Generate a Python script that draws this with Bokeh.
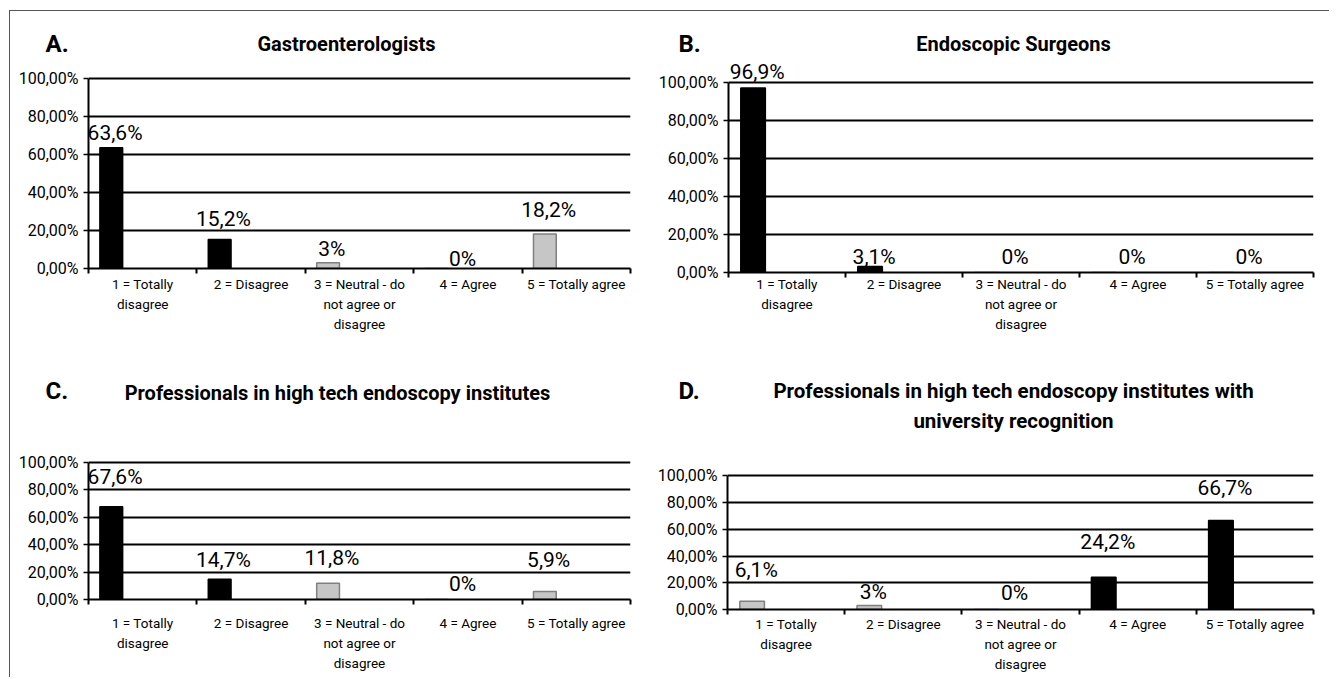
import numpy as np
from bokeh.plotting import figure
from bokeh.models import Range1d, FixedTicker, ColumnDataSource, LabelSet, Label
from bokeh.core.properties import value
from bokeh.layouts import row, column
from bokeh.embed import file_html
from bokeh.resources import INLINE

# ---------------- data ----------------
categories = ["1 = Totally\ndisagree", "2 = Disagree",
              "3 = Neutral - do\nnot agree or\ndisagree", "4 = Agree",
              "5 = Totally agree"]
y_ticks = [0, 20, 40, 60, 80, 100]
y_tick_labels = ["0,00%", "20,00%", "40,00%", "60,00%", "80,00%", "100,00%"]

values_A = [63.6, 15.2, 3.0, 0.0, 18.2]
values_B = [96.9, 3.1, 0.0, 0.0, 0.0]
values_C = [67.6, 14.7, 11.8, 0.0, 5.9]
values_D = [6.1, 3.0, 0.0, 24.2, 66.7]

letters = ["A.", "B.", "C.", "D."]
titles_A = ["Gastroenterologists"]
titles_B = ["Endoscopic Surgeons"]
titles_C = ["Professionals in high tech endoscopy institutes"]
titles_D = ["Professionals in high tech endoscopy institutes with",
            "university recognition"]

# categories drawn dark (the majority side) in each panel
dark_A = [0, 1]
dark_B = [0, 1]
dark_C = [0, 1]
dark_D = [3, 4]

# ---------------- layout / style (not data) ----------------
FONT = "Roboto"
TOTAL_W = 1319
# pixel gap between each bar top and its value label (as placed in the original)
gap_A = [8, 14, 7, 3, 17]
gap_B = [9, 3, 9, 9, 9]
gap_C = [23, 12, 18, 9, 24]
gap_D = [24, 6, 10, 28, 25]


def fmt(v):
    return ("%g" % v).replace(".", ",") + "%"


def panel(values, dark, gaps, w, h, borders, px_per_pct, cat_standoff):
    bl, br, bb = borders
    frame_h = h - bb
    y_end = frame_h / px_per_pct
    p = figure(width=w, height=h, x_range=Range1d(0, 5), y_range=Range1d(0, y_end),
               output_backend="svg", toolbar_location=None, tools="",
               min_border_left=bl, min_border_right=br,
               min_border_top=0, min_border_bottom=bb)
    p.outline_line_color = None
    p.background_fill_color = "white"
    p.border_fill_color = "white"

    n = len(values)
    idx = np.arange(n)
    fills = ["#000000" if i in dark else "#c6c6c6" for i in range(n)]
    lines = ["#000000" if i in dark else "#808080" for i in range(n)]
    xb = idx + 0.21
    xl = np.where(np.array(values) > 0, idx + 0.245, idx + 0.45)
    src = ColumnDataSource(dict(xb=xb, xl=xl, v=values, fill=fills, line=lines,
                                gap=gaps, lab=[fmt(v) for v in values]))
    p.vbar(x="xb", top="v", bottom=0, width=0.21, fill_color="fill",
           line_color="line", line_width=1.5, source=src)

    # grid
    p.xgrid.visible = False
    p.ygrid.ticker = FixedTicker(ticks=y_ticks)
    p.ygrid.grid_line_color = "black"
    p.ygrid.grid_line_width = 2

    # y axis
    ya = p.yaxis[0]
    ya.ticker = FixedTicker(ticks=y_ticks)
    ya.major_label_overrides = {t: l for t, l in zip(y_ticks, y_tick_labels)}
    ya.bounds = (0, 100)
    ya.axis_line_width = 2
    ya.axis_line_color = "black"
    ya.major_tick_line_color = "black"
    ya.major_tick_line_width = 1.5
    ya.major_tick_out = 5
    ya.major_tick_in = 0
    ya.minor_tick_line_color = None
    ya.major_label_standoff = 5
    ya.major_label_text_font = FONT
    ya.major_label_text_font_size = "16px"
    ya.major_label_text_color = "black"

    # x axis: labels at category centres, tick marks at boundaries
    xa = p.xaxis[0]
    centres = [i + 0.5 for i in range(n)]
    xa.ticker = FixedTicker(ticks=centres, minor_ticks=list(range(n + 1)))
    xa.major_label_overrides = {c: t for c, t in zip(centres, categories)}
    xa.axis_line_width = 2
    xa.axis_line_color = "black"
    xa.major_tick_line_color = None
    xa.major_tick_out = 0
    xa.major_tick_in = 0
    xa.minor_tick_line_color = "black"
    xa.minor_tick_line_width = 2
    xa.minor_tick_out = 5
    xa.minor_tick_in = 0
    xa.major_label_standoff = cat_standoff
    xa.major_label_text_font = FONT
    xa.major_label_text_font_size = "13.5px"
    xa.major_label_text_line_height = 1.25
    xa.major_label_text_color = "black"

    p.add_layout(LabelSet(x="xl", y="v", text="lab", source=src,
                          y_offset="gap", text_align="center",
                          text_baseline="alphabetic", text_font=value(FONT),
                          text_font_size=value("21px"), text_color="black"))
    return p


def strip(h, items):
    s = figure(width=TOTAL_W, height=h, x_range=Range1d(0, TOTAL_W),
               y_range=Range1d(h, 0), output_backend="svg",
               toolbar_location=None, tools="", min_border=0,
               x_axis_location=None, y_axis_location=None)
    s.grid.visible = False
    s.outline_line_color = None
    s.background_fill_color = "white"
    s.border_fill_color = "white"
    for text, x, y, align, size in items:
        s.add_layout(Label(x=x, y=y, text=text, text_align=align,
                           text_baseline="middle", text_font=FONT,
                           text_font_style="bold", text_font_size=size,
                           text_color="black"))
    return s


strip1 = strip(47, [(letters[0], 35, 32, "left", "24px"),
                    (titles_A[0], 336, 32, "center", "20px"),
                    (letters[1], 668, 32, "left", "24px"),
                    (titles_B[0], 1003, 32, "center", "20px")])
strip2 = strip(100, [(letters[2], 35, 50, "left", "24px"),
                     (titles_C[0], 327, 52, "center", "20px"),
                     (letters[3], 668, 50, "left", "24px"),
                     (titles_D[0], 1003, 50, "center", "20.5px"),
                     (titles_D[1], 1003, 80, "center", "20.5px")])

pA = panel(values_A, dark_A, gap_A, 640, 282, (78, 20, 72), 1.90, 2)
pB = panel(values_B, dark_B, gap_B, 679, 282, (78, 16, 68), 1.903, -2)
pC = panel(values_C, dark_C, gap_C, 640, 237, (78, 20, 78), 1.373, 10)
pD = panel(values_D, dark_D, gap_D, 679, 237, (77, 16, 68), 1.336, 1)

layout = column(strip1, row(column(pA), column(pB)), strip2,
                row(column(pC), column(pD)), margin=(10, 0, 0, 9),
                styles={"border-left": "1px solid #555", "border-top": "1px solid #555"})

open("out.html", "w").write(file_html(layout, INLINE))
